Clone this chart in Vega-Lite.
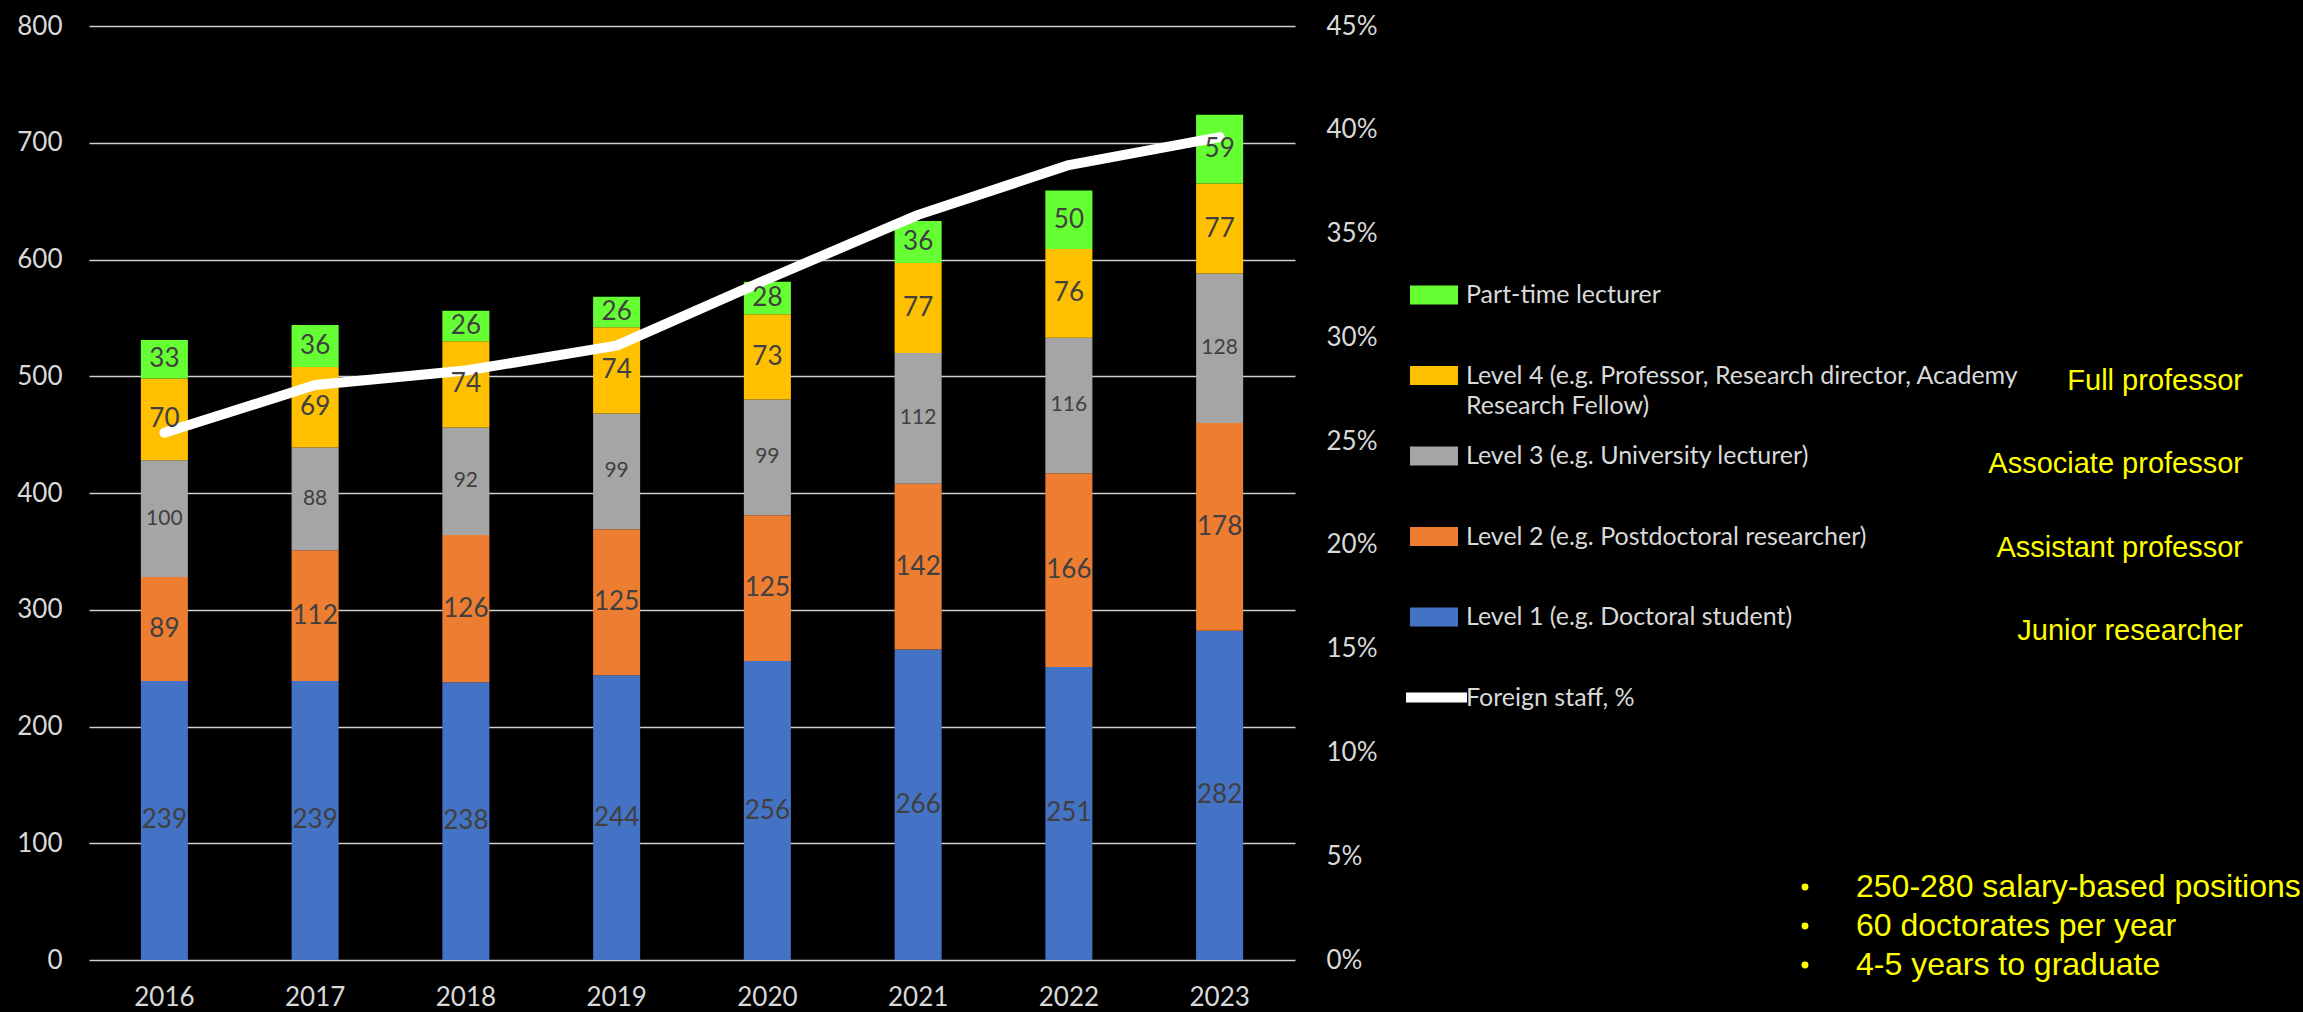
{
  "$schema": "https://vega.github.io/schema/vega-lite/v6.json",
  "width": 1206,
  "height": 934,
  "autosize": {"type": "none"},
  "padding": {"left": 89, "top": 26, "right": 1008, "bottom": 52},
  "background": "#000000",
  "config": {
    "view": {"stroke": null},
    "font": "Lato",
    "legend": {"labelLimit": 0, "padding": 0, "title": null}
  },
  "datasets": {
    "bars": [
      {"year": "2016", "category": "Level 1 (e.g. Doctoral student)", "value": 239},
      {"year": "2016", "category": "Level 2 (e.g. Postdoctoral researcher)", "value": 89},
      {"year": "2016", "category": "Level 3 (e.g. University lecturer)", "value": 100},
      {"year": "2016", "category": "Level 4 (e.g. Professor, Research director, Academy Research Fellow)", "value": 70},
      {"year": "2016", "category": "Part-time lecturer", "value": 33},
      {"year": "2017", "category": "Level 1 (e.g. Doctoral student)", "value": 239},
      {"year": "2017", "category": "Level 2 (e.g. Postdoctoral researcher)", "value": 112},
      {"year": "2017", "category": "Level 3 (e.g. University lecturer)", "value": 88},
      {"year": "2017", "category": "Level 4 (e.g. Professor, Research director, Academy Research Fellow)", "value": 69},
      {"year": "2017", "category": "Part-time lecturer", "value": 36},
      {"year": "2018", "category": "Level 1 (e.g. Doctoral student)", "value": 238},
      {"year": "2018", "category": "Level 2 (e.g. Postdoctoral researcher)", "value": 126},
      {"year": "2018", "category": "Level 3 (e.g. University lecturer)", "value": 92},
      {"year": "2018", "category": "Level 4 (e.g. Professor, Research director, Academy Research Fellow)", "value": 74},
      {"year": "2018", "category": "Part-time lecturer", "value": 26},
      {"year": "2019", "category": "Level 1 (e.g. Doctoral student)", "value": 244},
      {"year": "2019", "category": "Level 2 (e.g. Postdoctoral researcher)", "value": 125},
      {"year": "2019", "category": "Level 3 (e.g. University lecturer)", "value": 99},
      {"year": "2019", "category": "Level 4 (e.g. Professor, Research director, Academy Research Fellow)", "value": 74},
      {"year": "2019", "category": "Part-time lecturer", "value": 26},
      {"year": "2020", "category": "Level 1 (e.g. Doctoral student)", "value": 256},
      {"year": "2020", "category": "Level 2 (e.g. Postdoctoral researcher)", "value": 125},
      {"year": "2020", "category": "Level 3 (e.g. University lecturer)", "value": 99},
      {"year": "2020", "category": "Level 4 (e.g. Professor, Research director, Academy Research Fellow)", "value": 73},
      {"year": "2020", "category": "Part-time lecturer", "value": 28},
      {"year": "2021", "category": "Level 1 (e.g. Doctoral student)", "value": 266},
      {"year": "2021", "category": "Level 2 (e.g. Postdoctoral researcher)", "value": 142},
      {"year": "2021", "category": "Level 3 (e.g. University lecturer)", "value": 112},
      {"year": "2021", "category": "Level 4 (e.g. Professor, Research director, Academy Research Fellow)", "value": 77},
      {"year": "2021", "category": "Part-time lecturer", "value": 36},
      {"year": "2022", "category": "Level 1 (e.g. Doctoral student)", "value": 251},
      {"year": "2022", "category": "Level 2 (e.g. Postdoctoral researcher)", "value": 166},
      {"year": "2022", "category": "Level 3 (e.g. University lecturer)", "value": 116},
      {"year": "2022", "category": "Level 4 (e.g. Professor, Research director, Academy Research Fellow)", "value": 76},
      {"year": "2022", "category": "Part-time lecturer", "value": 50},
      {"year": "2023", "category": "Level 1 (e.g. Doctoral student)", "value": 282},
      {"year": "2023", "category": "Level 2 (e.g. Postdoctoral researcher)", "value": 178},
      {"year": "2023", "category": "Level 3 (e.g. University lecturer)", "value": 128},
      {"year": "2023", "category": "Level 4 (e.g. Professor, Research director, Academy Research Fellow)", "value": 77},
      {"year": "2023", "category": "Part-time lecturer", "value": 59}
    ],
    "line": [
      {"year": "2016", "series": "Foreign staff, %", "share": 0.254},
      {"year": "2017", "series": "Foreign staff, %", "share": 0.277},
      {"year": "2018", "series": "Foreign staff, %", "share": 0.284},
      {"year": "2019", "series": "Foreign staff, %", "share": 0.296},
      {"year": "2020", "series": "Foreign staff, %", "share": 0.328},
      {"year": "2021", "series": "Foreign staff, %", "share": 0.359},
      {"year": "2022", "series": "Foreign staff, %", "share": 0.383},
      {"year": "2023", "series": "Foreign staff, %", "share": 0.3965}
    ],
    "roles": [
      {"role": "Full professor"},
      {"role": "Associate professor"},
      {"role": "Assistant professor"},
      {"role": "Junior researcher"}
    ],
    "notes": [
      {"note": "250-280 salary-based positions"},
      {"note": "60 doctorates per year"},
      {"note": "4-5 years to graduate"}
    ]
  },
  "layer": [
    {
      "data": {"name": "bars"},
      "transform": [
        {"stack": "value", "groupby": ["year"], "sort": [{"field": "category", "order": "ascending"}], "as": ["v0", "v1"]}
      ],
      "mark": {"type": "bar"},
      "encoding": {
        "x": {
          "field": "year", "type": "ordinal", "title": null,
          "scale": {"paddingInner": 0.688, "paddingOuter": 0.344},
          "axis": {"labelColor": "#d9d9d9", "labelFontSize": 26, "labelFont": "Lato", "ticks": false, "domain": false, "labelPadding": 24, "labelAngle": 0}
        },
        "y": {
          "field": "v0", "type": "quantitative", "title": null,
          "scale": {"domain": [0, 800], "nice": false},
          "axis": {"values": [0, 100, 200, 300, 400, 500, 600, 700, 800], "labelColor": "#d9d9d9", "labelFontSize": 26, "labelFont": "Lato", "ticks": false, "domain": false, "labelPadding": 27, "grid": true, "gridColor": "#d0d0d0", "gridWidth": 1.5}
        },
        "y2": {"field": "v1"},
        "color": {
          "field": "category", "type": "nominal",
          "scale": {
            "domain": ["Part-time lecturer", "Level 4 (e.g. Professor, Research director, Academy Research Fellow)", "Level 3 (e.g. University lecturer)", "Level 2 (e.g. Postdoctoral researcher)", "Level 1 (e.g. Doctoral student)"],
            "range": ["#66ff33", "#ffc000", "#a5a5a5", "#ed7d31", "#4472c4"]
          },
          "legend": {
            "orient": "none", "legendX": 1321, "legendY": 245, "title": null,
            "symbolType": "M-1,-0.4H1V0.4H-1Z", "symbolSize": 2304, "symbolStrokeWidth": 0,
            "labelOffset": 8, "labelColor": "#d9d9d9", "labelFontSize": 25, "labelFont": "Lato",
            "rowPadding": 13.5, "gridAlign": "all", "labelLimit": 0, "padding": 0,
            "labelExpr": "datum.label == 'Level 4 (e.g. Professor, Research director, Academy Research Fellow)' ? ['Level 4 (e.g. Professor, Research director, Academy', 'Research Fellow)'] : datum.label",
            "encode": {"labels": {"update": {"lineHeight": {"value": 30}}}}
          }
        }
      }
    },
    {
      "data": {"name": "line"},
      "mark": {"type": "line", "strokeWidth": 10, "strokeCap": "round", "strokeJoin": "round"},
      "encoding": {
        "x": {"field": "year", "type": "ordinal", "title": null},
        "y": {
          "field": "share", "type": "quantitative", "title": null,
          "scale": {"domain": [0, 0.45], "nice": false},
          "axis": {"orient": "right", "format": ".0%", "values": [0, 0.05, 0.1, 0.15, 0.2, 0.25, 0.3, 0.35, 0.4, 0.45], "labelColor": "#d9d9d9", "labelFontSize": 26, "labelFont": "Lato", "ticks": false, "domain": false, "grid": false, "labelPadding": 31}
        },
        "color": {
          "field": "series", "type": "nominal",
          "scale": {"range": ["#ffffff"]},
          "legend": {
            "orient": "none", "legendX": 1312, "legendY": 636, "title": null,
            "symbolType": "stroke", "symbolSize": 3721, "symbolStrokeWidth": 10, "symbolStrokeColor": "#ffffff",
            "labelOffset": -6, "labelColor": "#d9d9d9", "labelFontSize": 25, "labelFont": "Lato", "padding": 0
          }
        }
      }
    },
    {
      "data": {"name": "bars"},
      "transform": [
        {"stack": "value", "groupby": ["year"], "sort": [{"field": "category", "order": "ascending"}], "as": ["v0", "v1"]},
        {"calculate": "(datum.v0 + datum.v1) / 2", "as": "mid"}
      ],
      "mark": {"type": "text", "color": "#404040", "font": "Lato", "baseline": "middle", "align": "center"},
      "encoding": {
        "x": {"field": "year", "type": "ordinal", "title": null},
        "y": {"field": "mid", "type": "quantitative", "title": null, "scale": {"domain": [0, 800], "nice": false}, "axis": null},
        "text": {"field": "value", "type": "quantitative"},
        "size": {"condition": {"test": "datum.category == 'Level 3 (e.g. University lecturer)'", "value": 21}, "value": 26}
      }
    },
    {
      "data": {"name": "roles"},
      "mark": {"type": "point", "opacity": 0, "filled": true},
      "encoding": {
        "color": {
          "field": "role", "type": "nominal",
          "scale": {"domain": ["Full professor", "Associate professor", "Assistant professor", "Junior researcher"], "range": ["#ffff00"]},
          "legend": {
            "orient": "none", "legendX": 2125, "legendY": 340, "title": null,
            "symbolOpacity": 0, "symbolSize": 1, "labelAlign": "right", "labelOffset": 0,
            "labelColor": "#ffff00", "labelFont": "Liberation Sans", "labelFontSize": 29,
            "rowPadding": 53.5, "labelLimit": 0, "padding": 0
          }
        }
      }
    },
    {
      "data": {"name": "notes"},
      "mark": {"type": "point", "opacity": 0, "filled": true},
      "encoding": {
        "color": {
          "field": "note", "type": "nominal",
          "scale": {"domain": ["250-280 salary-based positions", "60 doctorates per year", "4-5 years to graduate"], "range": ["#ffff00"]},
          "legend": {
            "orient": "none", "legendX": 1700, "legendY": 845, "title": null,
            "symbolType": "circle", "symbolOpacity": 1, "symbolSize": 48, "symbolFillColor": "#ffff00", "symbolStrokeWidth": 0,
            "labelOffset": 35, "labelColor": "#ffff00", "labelFont": "Liberation Sans", "labelFontSize": 32,
            "rowPadding": 7, "labelLimit": 0, "padding": 0
          }
        }
      }
    }
  ],
  "resolve": {"scale": {"y": "independent", "color": "independent"}}
}
